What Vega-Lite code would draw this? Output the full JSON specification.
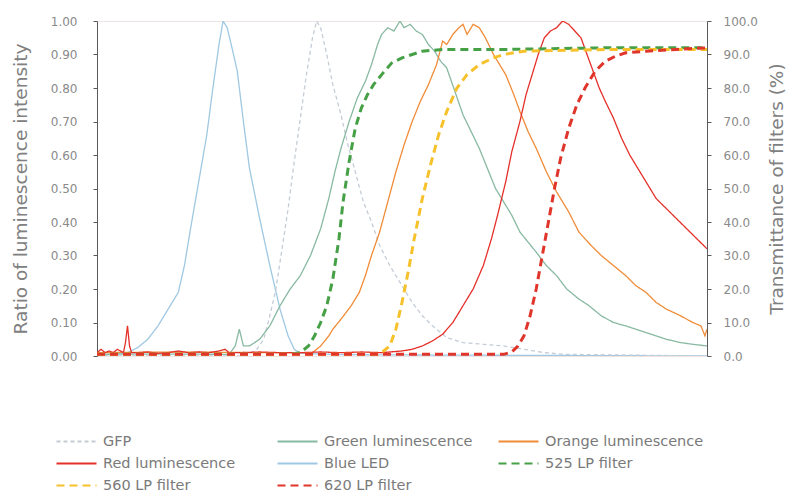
{
"$schema": "https://vega.github.io/schema/vega-lite/v6.json",
"autosize": "none",
"padding": {"left": 97, "top": 21, "right": 83, "bottom": 135},
"width": 610,
"height": 335,
"config": {
  "font": "DejaVu Sans",
  "view": {"stroke": "#eee4e4", "strokeWidth": 1},
  "axis": {"grid": false, "domainColor": "#5a5a5a", "tickColor": "#5a5a5a", "labelColor": "#8a8a8a", "titleColor": "#808080", "titleFontWeight": "normal", "titleFont": "DejaVu Sans", "labelFont": "DejaVu Sans"},
  "legend": {"labelFont": "DejaVu Sans"}
},
"datasets": {
  "lum": [
    {"series":"Blue LED","wl":400,"val":0},{"series":"Blue LED","wl":415,"val":0.01},{"series":"Blue LED","wl":420,"val":0.025},{"series":"Blue LED","wl":425,"val":0.05},{"series":"Blue LED","wl":430,"val":0.09},{"series":"Blue LED","wl":435,"val":0.14},{"series":"Blue LED","wl":440,"val":0.19},{"series":"Blue LED","wl":443,"val":0.27},{"series":"Blue LED","wl":446,"val":0.38},{"series":"Blue LED","wl":450,"val":0.52},{"series":"Blue LED","wl":454,"val":0.66},{"series":"Blue LED","wl":457,"val":0.8},{"series":"Blue LED","wl":460,"val":0.93},{"series":"Blue LED","wl":462,"val":1.0},{"series":"Blue LED","wl":464,"val":0.98},{"series":"Blue LED","wl":466,"val":0.93},{"series":"Blue LED","wl":469,"val":0.85},{"series":"Blue LED","wl":472,"val":0.7},{"series":"Blue LED","wl":475,"val":0.56},{"series":"Blue LED","wl":480,"val":0.41},{"series":"Blue LED","wl":485,"val":0.27},{"series":"Blue LED","wl":490,"val":0.14},{"series":"Blue LED","wl":494,"val":0.06},{"series":"Blue LED","wl":497,"val":0.02},{"series":"Blue LED","wl":500,"val":0.008},{"series":"Blue LED","wl":520,"val":0.004},{"series":"Blue LED","wl":560,"val":0.003},{"series":"Blue LED","wl":700,"val":0},

    {"series":"GFP","wl":400,"val":0},{"series":"GFP","wl":470,"val":0},{"series":"GFP","wl":478,"val":0.015},{"series":"GFP","wl":482,"val":0.05},{"series":"GFP","wl":485,"val":0.12},{"series":"GFP","wl":488,"val":0.2},{"series":"GFP","wl":491,"val":0.32},{"series":"GFP","wl":494,"val":0.44},{"series":"GFP","wl":497,"val":0.58},{"series":"GFP","wl":500,"val":0.71},{"series":"GFP","wl":503,"val":0.84},{"series":"GFP","wl":506,"val":0.95},{"series":"GFP","wl":508,"val":1.0},{"series":"GFP","wl":510,"val":0.98},{"series":"GFP","wl":513,"val":0.9},{"series":"GFP","wl":516,"val":0.81},{"series":"GFP","wl":520,"val":0.72},{"series":"GFP","wl":523,"val":0.64},{"series":"GFP","wl":527,"val":0.55},{"series":"GFP","wl":531,"val":0.46},{"series":"GFP","wl":535,"val":0.4},{"series":"GFP","wl":539,"val":0.33},{"series":"GFP","wl":544,"val":0.27},{"series":"GFP","wl":549,"val":0.22},{"series":"GFP","wl":555,"val":0.16},{"series":"GFP","wl":560,"val":0.12},{"series":"GFP","wl":565,"val":0.09},{"series":"GFP","wl":572,"val":0.055},{"series":"GFP","wl":580,"val":0.04},{"series":"GFP","wl":590,"val":0.035},{"series":"GFP","wl":600,"val":0.03},{"series":"GFP","wl":610,"val":0.02},{"series":"GFP","wl":620,"val":0.01},{"series":"GFP","wl":630,"val":0.005},{"series":"GFP","wl":700,"val":0},

    {"series":"Green luminescence","wl":400,"val":0.005},{"series":"Green luminescence","wl":430,"val":0.006},{"series":"Green luminescence","wl":465,"val":0.005},{"series":"Green luminescence","wl":468,"val":0.03},{"series":"Green luminescence","wl":470,"val":0.08},{"series":"Green luminescence","wl":472,"val":0.03},{"series":"Green luminescence","wl":475,"val":0.03},{"series":"Green luminescence","wl":480,"val":0.05},{"series":"Green luminescence","wl":485,"val":0.09},{"series":"Green luminescence","wl":490,"val":0.15},{"series":"Green luminescence","wl":495,"val":0.2},{"series":"Green luminescence","wl":500,"val":0.24},{"series":"Green luminescence","wl":505,"val":0.3},{"series":"Green luminescence","wl":510,"val":0.38},{"series":"Green luminescence","wl":514,"val":0.47},{"series":"Green luminescence","wl":517,"val":0.55},{"series":"Green luminescence","wl":520,"val":0.62},{"series":"Green luminescence","wl":524,"val":0.7},{"series":"Green luminescence","wl":528,"val":0.77},{"series":"Green luminescence","wl":532,"val":0.82},{"series":"Green luminescence","wl":535,"val":0.87},{"series":"Green luminescence","wl":538,"val":0.93},{"series":"Green luminescence","wl":540,"val":0.96},{"series":"Green luminescence","wl":543,"val":0.98},{"series":"Green luminescence","wl":546,"val":0.97},{"series":"Green luminescence","wl":549,"val":1.0},{"series":"Green luminescence","wl":551,"val":0.98},{"series":"Green luminescence","wl":554,"val":0.99},{"series":"Green luminescence","wl":557,"val":0.97},{"series":"Green luminescence","wl":560,"val":0.96},{"series":"Green luminescence","wl":563,"val":0.93},{"series":"Green luminescence","wl":566,"val":0.91},{"series":"Green luminescence","wl":569,"val":0.88},{"series":"Green luminescence","wl":572,"val":0.86},{"series":"Green luminescence","wl":576,"val":0.79},{"series":"Green luminescence","wl":580,"val":0.72},{"series":"Green luminescence","wl":584,"val":0.67},{"series":"Green luminescence","wl":588,"val":0.62},{"series":"Green luminescence","wl":592,"val":0.56},{"series":"Green luminescence","wl":596,"val":0.5},{"series":"Green luminescence","wl":600,"val":0.46},{"series":"Green luminescence","wl":604,"val":0.42},{"series":"Green luminescence","wl":608,"val":0.37},{"series":"Green luminescence","wl":612,"val":0.34},{"series":"Green luminescence","wl":616,"val":0.31},{"series":"Green luminescence","wl":621,"val":0.27},{"series":"Green luminescence","wl":626,"val":0.24},{"series":"Green luminescence","wl":631,"val":0.2},{"series":"Green luminescence","wl":637,"val":0.17},{"series":"Green luminescence","wl":642,"val":0.15},{"series":"Green luminescence","wl":648,"val":0.12},{"series":"Green luminescence","wl":654,"val":0.1},{"series":"Green luminescence","wl":660,"val":0.09},{"series":"Green luminescence","wl":665,"val":0.08},{"series":"Green luminescence","wl":670,"val":0.07},{"series":"Green luminescence","wl":675,"val":0.06},{"series":"Green luminescence","wl":680,"val":0.05},{"series":"Green luminescence","wl":687,"val":0.04},{"series":"Green luminescence","wl":693,"val":0.035},{"series":"Green luminescence","wl":700,"val":0.03},

    {"series":"Orange luminescence","wl":400,"val":0.01},{"series":"Orange luminescence","wl":440,"val":0.012},{"series":"Orange luminescence","wl":480,"val":0.01},{"series":"Orange luminescence","wl":506,"val":0.01},{"series":"Orange luminescence","wl":510,"val":0.03},{"series":"Orange luminescence","wl":514,"val":0.06},{"series":"Orange luminescence","wl":516,"val":0.08},{"series":"Orange luminescence","wl":520,"val":0.11},{"series":"Orange luminescence","wl":525,"val":0.15},{"series":"Orange luminescence","wl":529,"val":0.19},{"series":"Orange luminescence","wl":532,"val":0.24},{"series":"Orange luminescence","wl":535,"val":0.3},{"series":"Orange luminescence","wl":539,"val":0.37},{"series":"Orange luminescence","wl":543,"val":0.46},{"series":"Orange luminescence","wl":547,"val":0.55},{"series":"Orange luminescence","wl":551,"val":0.63},{"series":"Orange luminescence","wl":555,"val":0.7},{"series":"Orange luminescence","wl":559,"val":0.76},{"series":"Orange luminescence","wl":563,"val":0.81},{"series":"Orange luminescence","wl":567,"val":0.87},{"series":"Orange luminescence","wl":570,"val":0.94},{"series":"Orange luminescence","wl":572,"val":0.93},{"series":"Orange luminescence","wl":575,"val":0.96},{"series":"Orange luminescence","wl":578,"val":0.98},{"series":"Orange luminescence","wl":580,"val":0.99},{"series":"Orange luminescence","wl":582,"val":0.96},{"series":"Orange luminescence","wl":585,"val":0.99},{"series":"Orange luminescence","wl":588,"val":0.98},{"series":"Orange luminescence","wl":591,"val":0.95},{"series":"Orange luminescence","wl":595,"val":0.9},{"series":"Orange luminescence","wl":598,"val":0.87},{"series":"Orange luminescence","wl":601,"val":0.84},{"series":"Orange luminescence","wl":605,"val":0.78},{"series":"Orange luminescence","wl":608,"val":0.73},{"series":"Orange luminescence","wl":612,"val":0.67},{"series":"Orange luminescence","wl":616,"val":0.62},{"series":"Orange luminescence","wl":621,"val":0.55},{"series":"Orange luminescence","wl":626,"val":0.49},{"series":"Orange luminescence","wl":632,"val":0.43},{"series":"Orange luminescence","wl":637,"val":0.37},{"series":"Orange luminescence","wl":643,"val":0.33},{"series":"Orange luminescence","wl":648,"val":0.3},{"series":"Orange luminescence","wl":654,"val":0.27},{"series":"Orange luminescence","wl":660,"val":0.24},{"series":"Orange luminescence","wl":665,"val":0.21},{"series":"Orange luminescence","wl":670,"val":0.19},{"series":"Orange luminescence","wl":675,"val":0.16},{"series":"Orange luminescence","wl":680,"val":0.14},{"series":"Orange luminescence","wl":687,"val":0.12},{"series":"Orange luminescence","wl":693,"val":0.1},{"series":"Orange luminescence","wl":697,"val":0.09},{"series":"Orange luminescence","wl":699,"val":0.06},{"series":"Orange luminescence","wl":700,"val":0.08},

    {"series":"Red luminescence","wl":400,"val":0.01},{"series":"Red luminescence","wl":402,"val":0.02},{"series":"Red luminescence","wl":404,"val":0.01},{"series":"Red luminescence","wl":406,"val":0.015},{"series":"Red luminescence","wl":408,"val":0.01},{"series":"Red luminescence","wl":410,"val":0.02},{"series":"Red luminescence","wl":413,"val":0.01},{"series":"Red luminescence","wl":414,"val":0.04},{"series":"Red luminescence","wl":415,"val":0.09},{"series":"Red luminescence","wl":416,"val":0.03},{"series":"Red luminescence","wl":417,"val":0.01},{"series":"Red luminescence","wl":420,"val":0.01},{"series":"Red luminescence","wl":425,"val":0.012},{"series":"Red luminescence","wl":430,"val":0.008},{"series":"Red luminescence","wl":435,"val":0.01},{"series":"Red luminescence","wl":440,"val":0.015},{"series":"Red luminescence","wl":445,"val":0.01},{"series":"Red luminescence","wl":450,"val":0.012},{"series":"Red luminescence","wl":455,"val":0.01},{"series":"Red luminescence","wl":460,"val":0.015},{"series":"Red luminescence","wl":463,"val":0.02},{"series":"Red luminescence","wl":465,"val":0.01},{"series":"Red luminescence","wl":470,"val":0.01},{"series":"Red luminescence","wl":480,"val":0.012},{"series":"Red luminescence","wl":490,"val":0.01},{"series":"Red luminescence","wl":500,"val":0.01},{"series":"Red luminescence","wl":510,"val":0.012},{"series":"Red luminescence","wl":520,"val":0.01},{"series":"Red luminescence","wl":530,"val":0.012},{"series":"Red luminescence","wl":540,"val":0.01},{"series":"Red luminescence","wl":550,"val":0.015},{"series":"Red luminescence","wl":555,"val":0.02},{"series":"Red luminescence","wl":560,"val":0.03},{"series":"Red luminescence","wl":565,"val":0.045},{"series":"Red luminescence","wl":570,"val":0.065},{"series":"Red luminescence","wl":575,"val":0.1},{"series":"Red luminescence","wl":580,"val":0.15},{"series":"Red luminescence","wl":585,"val":0.2},{"series":"Red luminescence","wl":590,"val":0.27},{"series":"Red luminescence","wl":594,"val":0.35},{"series":"Red luminescence","wl":597,"val":0.42},{"series":"Red luminescence","wl":601,"val":0.52},{"series":"Red luminescence","wl":604,"val":0.61},{"series":"Red luminescence","wl":608,"val":0.7},{"series":"Red luminescence","wl":611,"val":0.78},{"series":"Red luminescence","wl":614,"val":0.84},{"series":"Red luminescence","wl":617,"val":0.9},{"series":"Red luminescence","wl":620,"val":0.95},{"series":"Red luminescence","wl":623,"val":0.97},{"series":"Red luminescence","wl":626,"val":0.98},{"series":"Red luminescence","wl":629,"val":1.0},{"series":"Red luminescence","wl":632,"val":0.99},{"series":"Red luminescence","wl":635,"val":0.97},{"series":"Red luminescence","wl":638,"val":0.95},{"series":"Red luminescence","wl":641,"val":0.9},{"series":"Red luminescence","wl":644,"val":0.85},{"series":"Red luminescence","wl":647,"val":0.8},{"series":"Red luminescence","wl":650,"val":0.76},{"series":"Red luminescence","wl":654,"val":0.71},{"series":"Red luminescence","wl":658,"val":0.65},{"series":"Red luminescence","wl":662,"val":0.6},{"series":"Red luminescence","wl":666,"val":0.56},{"series":"Red luminescence","wl":670,"val":0.52},{"series":"Red luminescence","wl":675,"val":0.47},{"series":"Red luminescence","wl":680,"val":0.44},{"series":"Red luminescence","wl":685,"val":0.41},{"series":"Red luminescence","wl":690,"val":0.38},{"series":"Red luminescence","wl":695,"val":0.35},{"series":"Red luminescence","wl":700,"val":0.32}
  ],
  "filt": [
    {"series":"525 LP filter","wl":400,"val":0.5},{"series":"525 LP filter","wl":495,"val":0.5},{"series":"525 LP filter","wl":500,"val":1},{"series":"525 LP filter","wl":504,"val":3},{"series":"525 LP filter","wl":507,"val":6},{"series":"525 LP filter","wl":510,"val":10},{"series":"525 LP filter","wl":513,"val":15},{"series":"525 LP filter","wl":516,"val":23},{"series":"525 LP filter","wl":519,"val":35},{"series":"525 LP filter","wl":521,"val":46},{"series":"525 LP filter","wl":524,"val":58},{"series":"525 LP filter","wl":527,"val":68},{"series":"525 LP filter","wl":530,"val":74},{"series":"525 LP filter","wl":533,"val":78},{"series":"525 LP filter","wl":536,"val":81},{"series":"525 LP filter","wl":540,"val":84},{"series":"525 LP filter","wl":545,"val":87.5},{"series":"525 LP filter","wl":550,"val":89},{"series":"525 LP filter","wl":555,"val":90},{"series":"525 LP filter","wl":560,"val":91},{"series":"525 LP filter","wl":570,"val":91.5},{"series":"525 LP filter","wl":600,"val":91.5},{"series":"525 LP filter","wl":650,"val":92},{"series":"525 LP filter","wl":700,"val":92},

    {"series":"560 LP filter","wl":400,"val":0.5},{"series":"560 LP filter","wl":538,"val":0.5},{"series":"560 LP filter","wl":541,"val":1.5},{"series":"560 LP filter","wl":544,"val":3},{"series":"560 LP filter","wl":547,"val":8},{"series":"560 LP filter","wl":550,"val":16},{"series":"560 LP filter","wl":553,"val":25},{"series":"560 LP filter","wl":556,"val":35},{"series":"560 LP filter","wl":560,"val":47},{"series":"560 LP filter","wl":564,"val":57},{"series":"560 LP filter","wl":568,"val":66},{"series":"560 LP filter","wl":572,"val":73},{"series":"560 LP filter","wl":577,"val":80},{"series":"560 LP filter","wl":582,"val":84},{"series":"560 LP filter","wl":588,"val":87},{"series":"560 LP filter","wl":595,"val":89},{"series":"560 LP filter","wl":600,"val":90},{"series":"560 LP filter","wl":610,"val":91},{"series":"560 LP filter","wl":650,"val":91.5},{"series":"560 LP filter","wl":700,"val":91.5},

    {"series":"620 LP filter","wl":400,"val":0.5},{"series":"620 LP filter","wl":600,"val":0.5},{"series":"620 LP filter","wl":604,"val":1.2},{"series":"620 LP filter","wl":607,"val":3},{"series":"620 LP filter","wl":610,"val":6},{"series":"620 LP filter","wl":613,"val":12},{"series":"620 LP filter","wl":616,"val":20},{"series":"620 LP filter","wl":619,"val":30},{"series":"620 LP filter","wl":622,"val":40},{"series":"620 LP filter","wl":625,"val":50},{"series":"620 LP filter","wl":628,"val":59},{"series":"620 LP filter","wl":632,"val":68},{"series":"620 LP filter","wl":636,"val":75},{"series":"620 LP filter","wl":640,"val":80},{"series":"620 LP filter","wl":645,"val":85},{"series":"620 LP filter","wl":650,"val":88},{"series":"620 LP filter","wl":655,"val":89.5},{"series":"620 LP filter","wl":660,"val":90.5},{"series":"620 LP filter","wl":670,"val":91},{"series":"620 LP filter","wl":685,"val":91.5},{"series":"620 LP filter","wl":700,"val":92}
  ]
},
"layer": [
  {
    "data": {"name": "lum"},
    "mark": {"type": "line", "strokeWidth": 1.3, "clip": true},
    "encoding": {
      "x": {"field": "wl", "type": "quantitative", "scale": {"domain": [400, 700], "nice": false, "zero": false},
        "axis": {"values": [400,450,500,550,600,650,700], "title": "Wavelength (nm)", "titleFontSize": 17.5, "labelFontSize": 13, "tickSize": 3, "labelPadding": 4, "titleX": 305, "titleY": 47, "titleBaseline": "middle"}},
      "y": {"field": "val", "type": "quantitative", "scale": {"domain": [0, 1], "nice": false},
        "axis": {"orient": "left", "values": [0,0.1,0.2,0.3,0.4,0.5,0.6,0.7,0.8,0.9,1], "format": ".2f", "title": "Ratio of luminescence intensity", "titleFontSize": 18.5, "labelFontSize": 12, "tickSize": 4, "labelPadding": 16, "titleX": -77, "titleY": 167.5, "titleAngle": 270, "titleBaseline": "middle"}},
      "color": {"field": "series", "type": "nominal",
        "scale": {"domain": ["GFP","Green luminescence","Orange luminescence","Red luminescence","Blue LED","525 LP filter","560 LP filter","620 LP filter"],
                  "range": ["#c4ccd6","#88b9a2","#f08c38","#e5302a","#9fc8e2","#46a046","#f6c12a","#e0352a"]},
        "legend": {"title": null, "orient": "none", "legendX": -32, "legendY": 409, "columns": 3, "direction": "horizontal", "gridAlign": "all", "symbolType": "M-2,0H2", "symbolSize": 400, "symbolStrokeWidth": 2.2, "labelFontSize": 14.5, "labelColor": "#7a7a7a", "labelOffset": 15, "columnPadding": 11, "rowPadding": 4, "labelLimit": 300}},
      "strokeDash": {"field": "series", "type": "nominal",
        "scale": {"domain": ["GFP","Green luminescence","Orange luminescence","Red luminescence","Blue LED","525 LP filter","560 LP filter","620 LP filter"],
                  "range": [[4,3],[1,0],[1,0],[1,0],[1,0],[8,5],[8,5],[8,5]]}}
    }
  },
  {
    "data": {"name": "filt"},
    "mark": {"type": "line", "strokeWidth": 3, "clip": true},
    "encoding": {
      "x": {"field": "wl", "type": "quantitative", "scale": {"domain": [400, 700], "nice": false, "zero": false}, "axis": null},
      "y": {"field": "val", "type": "quantitative", "scale": {"domain": [0, 100], "nice": false},
        "axis": {"orient": "right", "values": [0,10,20,30,40,50,60,70,80,90,100], "format": ".1f", "title": "Transmittance of filters (%)", "titleFontSize": 18.5, "labelFontSize": 12, "tickSize": 4, "labelPadding": 12, "titleX": 69, "titleY": 167.5, "titleAngle": 270, "titleBaseline": "middle"}},
      "color": {"field": "series", "type": "nominal",
        "scale": {"domain": ["GFP","Green luminescence","Orange luminescence","Red luminescence","Blue LED","525 LP filter","560 LP filter","620 LP filter"],
                  "range": ["#c4ccd6","#88b9a2","#f08c38","#e5302a","#9fc8e2","#46a046","#f6c12a","#e0352a"]}},
      "strokeDash": {"field": "series", "type": "nominal",
        "scale": {"domain": ["GFP","Green luminescence","Orange luminescence","Red luminescence","Blue LED","525 LP filter","560 LP filter","620 LP filter"],
                  "range": [[4,3],[1,0],[1,0],[1,0],[1,0],[8,5],[8,5],[8,5]]}}
    }
  }
],
"resolve": {"scale": {"y": "independent"}}
}
